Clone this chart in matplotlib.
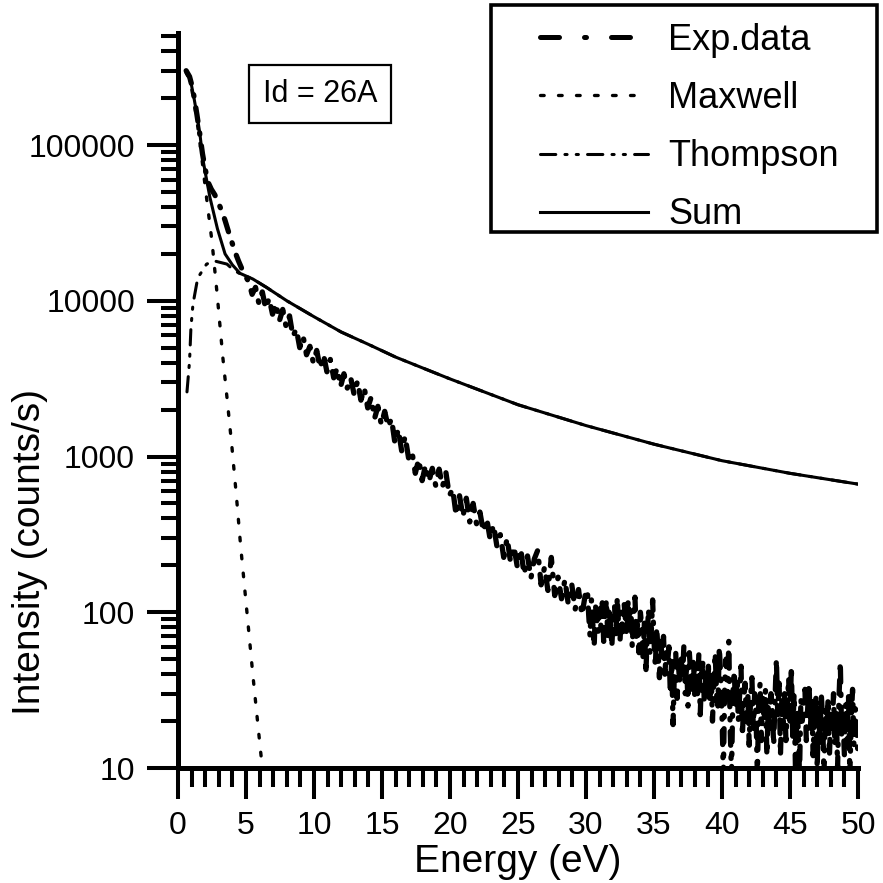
import numpy as np
import matplotlib.pyplot as plt
from matplotlib.lines import Line2D
from matplotlib.patches import Rectangle
from matplotlib.ticker import FixedLocator, MultipleLocator, NullFormatter

plt.rcParams['font.family'] = ['Liberation Sans', 'DejaVu Sans']

exp_e = [0.6, 0.7, 0.85, 1.0, 1.2, 1.4, 1.6, 1.8, 2.0, 2.2, 2.45, 2.7, 2.95, 3.2, 3.45, 3.7, 3.95,
         4.2, 4.45, 4.7, 4.95,
         5.2, 5.45, 5.7, 5.95, 6.2, 6.45, 6.7, 6.95, 7.2, 7.45,
         7.7, 7.95, 8.2, 8.45, 8.7, 8.95, 9.2, 9.45, 9.7, 9.95,
         10.2, 10.45, 10.7, 10.95, 11.2, 11.45, 11.7, 11.95, 12.2, 12.45,
         12.7, 12.95, 13.2, 13.45, 13.7, 13.95, 14.2, 14.45, 14.7, 14.95,
         15.2, 15.45, 15.7, 15.95, 16.2, 16.45, 16.7, 16.95, 17.2, 17.45,
         17.7, 17.95, 18.2, 18.45, 18.7, 18.95, 19.2, 19.45, 19.7, 19.95,
         20.2, 20.45, 20.7, 20.95, 21.2, 21.45, 21.7, 21.95, 22.2, 22.45,
         22.7, 22.95, 23.2, 23.45, 23.7, 23.95, 24.2, 24.45, 24.7, 24.95,
         25.2, 25.45, 25.7, 25.95, 26.2, 26.45, 26.7, 26.95, 27.2, 27.45,
         27.7, 27.95, 28.2, 28.45, 28.7, 28.95, 29.2, 29.45, 29.7, 29.95,
         30.1, 30.2, 30.3, 30.4, 30.5, 30.6, 30.7, 30.8, 30.9, 31.0,
         31.1, 31.2, 31.3, 31.4, 31.5, 31.6, 31.7, 31.8, 31.9, 32.0,
         32.1, 32.2, 32.3, 32.4, 32.5, 32.6, 32.7, 32.8, 32.9, 33.0,
         33.1, 33.2, 33.3, 33.4, 33.5, 33.6, 33.7, 33.8, 33.9, 34.0,
         34.1, 34.2, 34.3, 34.4, 34.5, 34.6, 34.7, 34.8, 34.9, 35.0,
         35.1, 35.2, 35.3, 35.4, 35.5, 35.6, 35.7, 35.8, 35.9, 36.0,
         36.1, 36.2, 36.3, 36.4, 36.5, 36.6, 36.7, 36.8, 36.9, 37.0,
         37.1, 37.2, 37.3, 37.4, 37.5, 37.6, 37.7, 37.8, 37.9, 38.0,
         38.1, 38.2, 38.3, 38.4, 38.5, 38.6, 38.7, 38.8, 38.9, 39.0,
         39.1, 39.2, 39.3, 39.4, 39.5, 39.6, 39.7, 39.8, 39.9, 40.0,
         40.1, 40.2, 40.3, 40.4, 40.5, 40.6, 40.7, 40.8, 40.9, 41.0,
         41.1, 41.2, 41.3, 41.4, 41.5, 41.6, 41.7, 41.8, 41.9, 42.0,
         42.1, 42.2, 42.3, 42.4, 42.5, 42.6, 42.7, 42.8, 42.9, 43.0,
         43.1, 43.2, 43.3, 43.4, 43.5, 43.6, 43.7, 43.8, 43.9, 44.0,
         44.1, 44.2, 44.3, 44.4, 44.5, 44.6, 44.7, 44.8, 44.9, 45.0,
         45.1, 45.2, 45.3, 45.4, 45.5, 45.6, 45.7, 45.8, 45.9, 46.0,
         46.1, 46.2, 46.3, 46.4, 46.5, 46.6, 46.7, 46.8, 46.9, 47.0,
         47.1, 47.2, 47.3, 47.4, 47.5, 47.6, 47.7, 47.8, 47.9, 48.0,
         48.1, 48.2, 48.3, 48.4, 48.5, 48.6, 48.7, 48.8, 48.9, 49.0,
         49.1, 49.2, 49.3, 49.4, 49.5, 49.6, 49.7, 49.8, 49.9, 50.0]
exp_i = [3.0e5, 2.9e5, 2.75e5, 2.45e5, 2.0e5, 1.55e5, 1.18e5, 8.8e4, 7.0e4, 5.8e4, 5.2e4, 4.8e4,
         4.3e4, 3.8e4, 3.3e4, 2.8e4, 2.4e4, 2.05e4, 1.8e4, 1.6e4, 1.45e4,
         1.32e4, 1.1e4, 1.22e4, 9.6e3, 1.14e4, 8.9e3, 1.04e4, 8.2e3, 9.6e3, 7.4e3,
         8.8e3, 6.8e3, 8.0e3, 5.9e3, 6.6e3, 5.0e3, 5.9e3, 4.5e3, 5.1e3, 4.0e3,
         4.8e3, 3.7e3, 4.5e3, 3.5e3, 4.2e3, 3.2e3, 3.7e3, 2.8e3, 3.4e3, 2.75e3,
         3.2e3, 2.5e3, 3.05e3, 2.3e3, 2.75e3, 2.05e3, 2.4e3, 1.75e3, 2.1e3, 1.6e3,
         1.95e3, 1.55e3, 1.75e3, 1.22e3, 1.5e3, 1.08e3, 1.35e3, 980, 1.08e3, 780,
         960, 700, 880, 690, 840, 650, 830, 640, 790, 560,
         620, 420, 560, 410, 540, 380, 500, 370, 440, 330,
         400, 295, 365, 265, 315, 225, 300, 210, 265, 195,
         255, 175, 230, 165, 220, 250, 150, 195, 138, 225,
         128, 168, 122, 162, 112, 152, 104, 140, 96, 130,
         140, 95, 70, 120, 85, 60, 110, 90, 75, 105,
         80, 115, 65, 95, 120, 70, 100, 85, 60, 95,
         110, 70, 125, 80, 65, 100, 75, 115, 90, 70,
         120, 85, 105, 60, 95, 125, 70, 85, 55, 100,
         80, 50, 90, 40, 70, 105, 55, 75, 120, 65,
         45, 80, 55, 38, 65, 50, 70, 40, 55, 48,
         60, 30, 50, 19, 42, 55, 28, 45, 35, 50,
         38, 62, 30, 48, 25, 55, 40, 32, 50, 28,
         45, 30, 55, 22, 40, 48, 26, 38, 30, 45,
         28, 42, 20, 35, 55, 30, 25, 60, 40, 22,
         9, 35, 50, 28, 65, 18, 9, 30, 42, 25,
         38, 20, 30, 45, 16, 28, 35, 20, 30, 14,
         28, 38, 18, 30, 22, 9, 26, 35, 15, 28,
         20, 32, 12, 25, 18, 30, 24, 14, 28, 50,
         22, 35, 12, 28, 18, 30, 15, 25, 38, 20,
         45, 16, 30, 10, 24, 18, 9, 28, 20, 26,
         32, 15, 24, 35, 18, 28, 12, 22, 30, 10,
         26, 14, 30, 20, 9, 24, 16, 28, 12, 22,
         18, 30, 14, 24, 10, 28, 48, 16, 22, 12,
         26, 15, 30, 9, 20, 32, 14, 24, 18, 12]

# Maxwell component
max_e = [0.6, 0.8, 1.0, 1.2, 1.4, 1.6, 1.8, 2.0, 2.2, 2.5, 2.87, 3.3, 3.6, 3.97, 4.3, 4.6, 5.07,
         5.5, 5.9, 6.2]
max_i = [2.9e5, 2.7e5, 2.3e5, 1.85e5, 1.42e5, 1.05e5, 7.6e4, 5.4e4, 3.9e4, 2.4e4, 1.12e4, 4.3e3,
         2.4e3, 1.14e3, 550, 270, 100, 40, 18, 10]

# Thompson component
th_e = [0.66, 0.85, 0.95, 1.1, 1.45, 2.1, 2.7, 3.6, 4.0, 4.5, 5.5, 6.5, 8, 10, 12, 14, 16, 18,
        20, 25, 30, 35, 40, 45, 50]
th_i = [2.6e3, 4.1e3, 6.7e3, 9.5e3, 1.4e4, 1.72e4, 1.8e4, 1.72e4, 1.6e4, 1.5e4, 1.38e4, 1.22e4,
        1.0e4, 7.9e3, 6.3e3, 5.25e3, 4.35e3, 3.7e3, 3.15e3, 2.15e3, 1.58e3, 1.2e3, 940, 780, 665]

# Sum of both
sum_e = [0.6, 0.8, 1.0, 1.2, 1.4, 1.6, 1.84, 2.1, 2.35, 2.9, 3.46, 4.0, 4.56, 5.5, 6.5, 8, 10,
         12, 14, 16, 18, 20, 25, 30, 35, 40, 45, 50]
sum_i = [2.95e5, 2.75e5, 2.4e5, 1.95e5, 1.55e5, 1.2e5, 8.0e4, 6.0e4, 4.6e4, 2.9e4, 2.0e4, 1.7e4,
         1.5e4, 1.38e4, 1.22e4, 1.0e4, 7.9e3, 6.3e3, 5.25e3, 4.35e3, 3.7e3, 3.15e3, 2.15e3,
         1.58e3, 1.2e3, 940, 780, 665]

yticks = [10, 100, 1000, 10000, 100000]
ytick_labels = ['10', '100', '1000', '10000', '100000']

W = 883.0
fig = plt.figure(figsize=(8.83, 8.83), dpi=100)
ax = fig.add_axes([178 / W, 1 - 768 / W, 680 / W, 735 / W])

exp_ls = (0, (2.6, 2.2, 0.3, 2.2))
exp_leg_ls = (0, (3.8, 5.0, 0.4, 5.0))
max_ls = (0, (1.1, 4.3))
th_ls = (0, (5, 3, 0.7, 3, 0.7, 3))

ax.plot(max_e, max_i, color='black', lw=2.4, linestyle=max_ls, dash_capstyle='round')
ax.plot(th_e, th_i, color='black', lw=2.2, linestyle=th_ls, dash_capstyle='round')
ax.plot(sum_e, sum_i, color='black', lw=2.2, linestyle='-')
ax.plot(exp_e, exp_i, color='black', lw=3.8, linestyle=exp_ls, dash_capstyle='round')

ax.set_yscale('log')
ax.set_xlim(0, 50)
ax.set_ylim(10, 5.24e5)
ax.xaxis.set_major_locator(MultipleLocator(5))
ax.xaxis.set_minor_locator(MultipleLocator(1))
ax.yaxis.set_major_locator(FixedLocator(yticks))
ax.set_yticklabels(ytick_labels)
ax.yaxis.set_minor_locator(FixedLocator([m * 10 ** k for k in range(1, 6) for m in range(2, 10)]))
ax.yaxis.set_minor_formatter(NullFormatter())

for s in ['top', 'right']:
    ax.spines[s].set_visible(False)
for s in ['left', 'bottom']:
    ax.spines[s].set_linewidth(3.6)

ax.tick_params(which='major', direction='out', length=22, width=2.9, labelsize=23)
ax.tick_params(which='minor', direction='out', length=12, width=2.9)
ax.tick_params(axis='x', which='minor', length=14)
ax.tick_params(axis='x', which='major', pad=9)
ax.tick_params(axis='y', which='major', pad=9)

fig.text(518 / W, 1 - 862 / W, 'Energy (eV)', ha='center', va='center', fontsize=28)
fig.text(30 / W, 1 - 552 / W, 'Intensity (counts/s)', ha='center', va='center',
         fontsize=28, rotation=90)

fig.text(263 / W, 1 - 94 / W, 'Id = 26A', ha='left', va='center', fontsize=22,
         bbox=dict(boxstyle='square,pad=0.45', fc='white', ec='black', lw=1.6))

# legend box
fig.patches.append(Rectangle((491 / W, 1 - 232 / W), (877 - 491) / W, (232 - 5) / W,
                             transform=fig.transFigure, fill=False, ec='black', lw=2.6))
handles = [Line2D([], [], color='black', lw=3.6, linestyle=exp_leg_ls, dash_capstyle='round'),
           Line2D([], [], color='black', lw=2.4, linestyle=max_ls, dash_capstyle='round'),
           Line2D([], [], color='black', lw=2.2, linestyle=th_ls, dash_capstyle='round'),
           Line2D([], [], color='black', lw=2.2)]
fig.legend(handles, ['Exp.data', 'Maxwell', 'Thompson', 'Sum'], loc='upper left',
           bbox_to_anchor=(540 / W, 1 - 23 / W), frameon=False, fontsize=26,
           handlelength=3.0, handletextpad=0.55, labelspacing=0.64, borderpad=0,
           borderaxespad=0)

fig.savefig('out.png', dpi=100)
